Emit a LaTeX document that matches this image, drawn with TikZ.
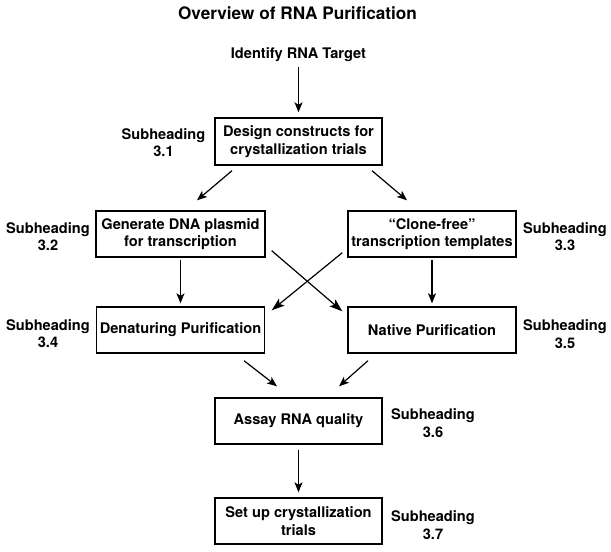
\documentclass[tikz,border=0pt]{standalone}
\usepackage{fontspec}
\setmainfont{TeX Gyre Heros}
\usetikzlibrary{arrows.meta}
\begin{document}
\begin{tikzpicture}[x=1pt,y=-1pt,
  lbl/.style={font=\fontsize{14.6}{17.5}\selectfont\bfseries, align=center, inner sep=0pt},
  box/.style={lbl, draw, line width=1.4pt, minimum width=167pt, minimum height=46pt},
  arr/.style={line width=1.2pt, -{Stealth[length=10pt,width=8pt,inset=2.5pt]}},
  bigarr/.style={line width=1.2pt, -{Stealth[length=13pt,width=9pt,inset=3pt]}}]
\useasboundingbox (0,0) rectangle (611,552);
\node[lbl, font=\fontsize{17.2}{20}\selectfont\bfseries] (title) at (297.5,13) {Overview of RNA Purification};
\node[lbl] (id) at (298.5,55) {Identify RNA Target};
\node[box, minimum height=47pt] (b1) at (298.5,141.5) {Design constructs for\\crystallization trials};
\node[box, minimum width=169pt] (b2l) at (180.5,234) {Generate DNA plasmid\\for transcription};
\node[box, minimum width=168pt] (b2r) at (432,234) {“Clone-free”\\transcription templates};
\node[box, minimum width=168pt] (b3l) at (180.5,330) {Denaturing Purification};
\node[box, minimum width=168pt] (b3r) at (432,330) {Native Purification};
\node[box] (b4) at (298.5,421) {Assay RNA quality};
\node[box] (b5) at (298.5,521) {Set up crystallization\\trials};
\node[lbl] (s31) at (163.5,142.5) {Subheading\\3.1};
\node[lbl] (s32) at (48,236.5) {Subheading\\3.2};
\node[lbl] (s33) at (565,236.5) {Subheading\\3.3};
\node[lbl] (s34) at (48,333.5) {Subheading\\3.4};
\node[lbl] (s35) at (565,334) {Subheading\\3.5};
\node[lbl] (s36) at (433,423) {Subheading\\3.6};
\node[lbl] (s37) at (433,525) {Subheading\\3.7};
\draw[arr] ([yshift=-5pt]id.south) -- ([yshift=5pt]b1.north);
\draw[arr] ([xshift=-66.5pt,yshift=-5pt]b1.south) -- ([xshift=16.5pt,yshift=10pt]b2l.north);
\draw[arr] ([xshift=73.5pt,yshift=-5pt]b1.south) -- ([xshift=-25pt,yshift=10pt]b2r.north);
\draw[arr] ([yshift=-2pt]b2l.south) -- ([yshift=3pt]b3l.north);
\draw[arr] ([yshift=-2pt]b2r.south) -- ([yshift=3pt]b3r.north);
\draw[bigarr] ([xshift=6pt,yshift=7pt]b2l.south east) -- ([xshift=-5pt,yshift=-5pt]b3r.north west);
\draw[bigarr] ([xshift=-5pt,yshift=5pt]b2r.south west) -- ([xshift=6.5pt,yshift=-4pt]b3l.north east);
\draw[arr] ([xshift=63.5pt,yshift=-7pt]b3l.south) -- ([xshift=-21.5pt,yshift=11pt]b4.north);
\draw[arr] ([xshift=-64pt,yshift=-7pt]b3r.south) -- ([xshift=40.5pt,yshift=11pt]b4.north);
\draw[arr] ([yshift=-5pt]b4.south) -- ([yshift=5pt]b5.north);
\end{tikzpicture}
\end{document}
